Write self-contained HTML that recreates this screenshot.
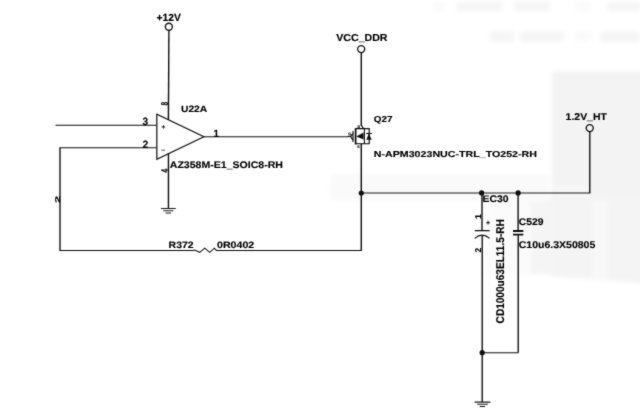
<!DOCTYPE html>
<html>
<head>
<meta charset="utf-8">
<title>Schematic</title>
<style>
html,body{margin:0;padding:0;background:#fff;}
body{width:640px;height:416px;overflow:hidden;position:relative;font-family:"Liberation Sans",sans-serif;}
svg{position:absolute;left:0;top:0;display:block;}
text{font-family:"Liberation Sans",sans-serif;font-weight:bold;fill:#000;stroke:#000;stroke-width:0.15;text-rendering:geometricPrecision;}
.w{stroke:#101010;stroke-width:1.2;fill:none;stroke-linecap:butt;stroke-linejoin:miter;}
.g{stroke:#181818;stroke-width:1.05;fill:none;}
.h{stroke:#101010;stroke-width:1.05;fill:none;stroke-linecap:square;}
.v{stroke:#101010;stroke-width:1.4;fill:none;stroke-linecap:butt;}
.t{stroke:#080808;stroke-width:1.1;fill:none;}
.d{fill:#111;stroke:none;}
.c{stroke:#101010;stroke-width:1.35;fill:none;}
</style>
</head>
<body>
<svg width="640" height="416" viewBox="0 0 640 416">
<defs>
<filter id="bl" x="-10%" y="-30%" width="120%" height="160%"><feGaussianBlur stdDeviation="2.5"/></filter>
<filter id="bl2" x="-10%" y="-10%" width="120%" height="120%"><feGaussianBlur stdDeviation="2"/></filter>
<filter id="sb" x="0" y="0" width="640" height="416" filterUnits="userSpaceOnUse"><feConvolveMatrix order="3" kernelMatrix="1 3 1 3 24 3 1 3 1" divisor="40" edgeMode="duplicate" preserveAlpha="false"/></filter>
</defs>
<!-- faint paper shading -->
<g filter="url(#bl2)">
<path d="M552 71H650V194H552Z" fill="#f3f3f3"/><path d="M552 194H650V284L548 276V196H552Z" fill="#f4f4f4"/>
<rect x="528" y="198" width="26" height="76" fill="#f5f5f5"/>
<rect x="592" y="200" width="16" height="80" fill="#f8f8f8"/>
<rect x="555" y="186" width="32" height="10" fill="#f8f8f8"/>
</g>
<g filter="url(#bl)">
<rect x="486" y="200" width="44" height="76" fill="#fbfbfb"/>
<rect x="330" y="174" width="220" height="26" fill="#fafafa"/>
<rect x="433" y="2" width="12" height="9" fill="#fafafa"/>
<rect x="457" y="2" width="45" height="9" fill="#f5f5f5"/>
<rect x="514" y="2" width="36" height="9" fill="#f5f5f5"/>
<rect x="575" y="2" width="16" height="9" fill="#fafafa"/>
<rect x="607" y="2" width="33" height="9" fill="#f5f5f5"/>
<rect x="490" y="31" width="24" height="11" fill="#f5f5f5"/>
<rect x="520" y="31" width="43" height="11" fill="#f5f5f5"/>
<rect x="575" y="31" width="16" height="11" fill="#fafafa"/>
<rect x="600" y="31" width="40" height="11" fill="#f5f5f5"/>
</g>
<g filter="url(#sb)">
<!-- +12V rail -->
<path class="v" d="M168.9 30.4L168.4 120"/>
<circle class="c" cx="168.85" cy="26.7" r="3.5"/>
<text x="156.4" y="20.7" font-size="10.39" textLength="24.4" lengthAdjust="spacingAndGlyphs">+12V</text>

<!-- opamp -->
<path class="w" d="M156.8 114.3V159.3L203.9 136.8Z"/>
<path class="h" d="M56 125.3H156"/>
<path class="v" d="M60 250.4V147.7"/><path class="h" d="M60 147.7H156"/>
<path class="h" d="M204 136.8H348"/>
<path class="v" d="M168.45 153V208.4"/>
<path class="g" d="M160.95 208.4H175.75M163.25 210.7H173.25M165.65 212.9H171.05"/>
<text x="181" y="111.7" font-size="9.16" textLength="26.25" lengthAdjust="spacingAndGlyphs">U22A</text>

<text x="169.8" y="168.3" font-size="9.59" textLength="113.2" lengthAdjust="spacingAndGlyphs" stroke="none">AZ358M-E1_SOIC8-RH</text>

<text transform="translate(142.4,125.3) scale(1,1)" font-size="10.6" textLength="5.6" lengthAdjust="spacingAndGlyphs">3</text>

<text transform="translate(142.4,148.1) scale(1,1)" font-size="10.6" textLength="5.8" lengthAdjust="spacingAndGlyphs">2</text>

<text transform="translate(213.4,137) scale(1,1)" font-size="10.6" textLength="5.4" lengthAdjust="spacingAndGlyphs">1</text>

<text x="161.6" y="129.4" font-size="6.5" font-weight="normal" fill="#222" stroke="none">+</text>
<text x="161.2" y="152.4" font-size="7" font-weight="normal">–</text>
<text transform="translate(167.5,105.4) rotate(-90) scale(0.66,1)" font-size="10" stroke="none">8</text>
<text transform="translate(167.5,172.6) rotate(-90) scale(0.66,1)" font-size="10" stroke="none">4</text>
<text transform="translate(59.6,202.9) rotate(-90) scale(1.85,1)" font-size="7" stroke="none">2</text>
<!-- feedback -->
<path class="h" d="M60 250.4H193.4L194.6 250L199.7 252.3L204.7 248.2L209.7 252.3L214.4 248.2L216.4 250.4H361.3"/><path class="v" d="M361.3 250.4V143.8"/>
<text x="168.6" y="248.1" font-size="9.23" textLength="25.0" lengthAdjust="spacingAndGlyphs">R372</text>

<text x="217" y="248.1" font-size="9.23" textLength="37.3" lengthAdjust="spacingAndGlyphs">0R0402</text>

<!-- VCC_DDR -->
<path class="v" d="M361.3 53V126"/>
<circle class="c" cx="361.2" cy="49.1" r="3.5"/>
<text x="336.25" y="41.05" font-size="10.03" textLength="51.25" lengthAdjust="spacingAndGlyphs">VCC_DDR</text>

<!-- MOSFET -->
<path class="t" d="M361.4 125.2L363.4 128.4M355.4 128.6H369.2V143.8H355.4M364.4 128.6V143.8M353 131V142M348 136.4H350.6l2 -2.6M350.6 136.4l2 3.4"/>
<path d="M355.6 128.4V144.4" stroke="#080808" stroke-width="1.7" fill="none"/>
<path class="d" d="M356.3 136.5L363.6 132.6V139.6Z"/>
<path class="d" d="M368.9 133.6L371.7 139.8H366.3Z"/>
<path class="t" d="M366.2 133.5H371.8"/>
<text x="357.6" y="127.6" font-size="3.6" font-weight="normal" fill="#444" stroke="none">D</text>
<text x="348.2" y="134.6" font-size="3.6" font-weight="normal" fill="#444" stroke="none">G</text>
<text x="357.2" y="148.2" font-size="3.6" font-weight="normal" fill="#444" stroke="none">S</text>
<text x="373.75" y="122.2" font-size="8.65" textLength="18.75" lengthAdjust="spacingAndGlyphs" stroke="none">Q27</text>

<text x="373.75" y="156.55" font-size="8.58" textLength="163.25" lengthAdjust="spacingAndGlyphs" stroke="none">N-APM3023NUC-TRL_TO252-RH</text>

<!-- output rail -->
<path class="h" d="M361.3 192.9H589.8"/><path class="v" d="M589.8 193V131.8"/>
<circle class="c" cx="589.75" cy="128.1" r="3.5"/>
<text x="565.6" y="120.05" font-size="9.88" textLength="41.3" lengthAdjust="spacingAndGlyphs">1.2V_HT</text>

<circle class="d" cx="361.3" cy="193" r="2.6"/>
<circle class="d" cx="481.6" cy="192.9" r="2.6"/>
<circle class="d" cx="518.1" cy="192.9" r="2.6"/>
<!-- EC30 -->
<path class="v" d="M482 193V230M482.2 235.5V402.1"/><path class="w" d="M474.8 230.6H489.6M474.8 238.4Q482 231.8 489.6 238.4"/>
<text x="482.6" y="201.7" font-size="9.52" textLength="26.0" lengthAdjust="spacingAndGlyphs">EC30</text>

<text transform="translate(480.6,219) rotate(-90) scale(1,1.0)" font-size="8.5">1</text>

<text transform="translate(480.6,252.6) rotate(-90) scale(1,1.0)" font-size="8.5">2</text>

<text x="486" y="224.5" font-size="7">+</text>
<text transform="translate(504.4,323.4) rotate(-90)" font-size="11.3" stroke="none" textLength="104.2" lengthAdjust="spacingAndGlyphs">CD1000u63EL11.5-RH</text>
<!-- C529 -->
<path class="v" d="M518.1 193V230M518.2 235V352.6"/><path class="h" d="M518.2 352.7H482"/>
<path d="M513 231H523.3M513 234.6H523.3" stroke="#111" stroke-width="1.8" fill="none"/>
<text x="518.75" y="224.8" font-size="9.67" textLength="24.65" lengthAdjust="spacingAndGlyphs">C529</text>

<text x="518.75" y="247.8" font-size="9.81" textLength="76.55" lengthAdjust="spacingAndGlyphs">C10u6.3X50805</text>

<circle class="d" cx="482.2" cy="352.7" r="2.6"/>
<!-- ground -->
<path class="g" d="M474.6 402.1H490.3M477.3 404.3H487.8M479.8 406.4H485"/>
</g>
</svg>
</body>
</html>
